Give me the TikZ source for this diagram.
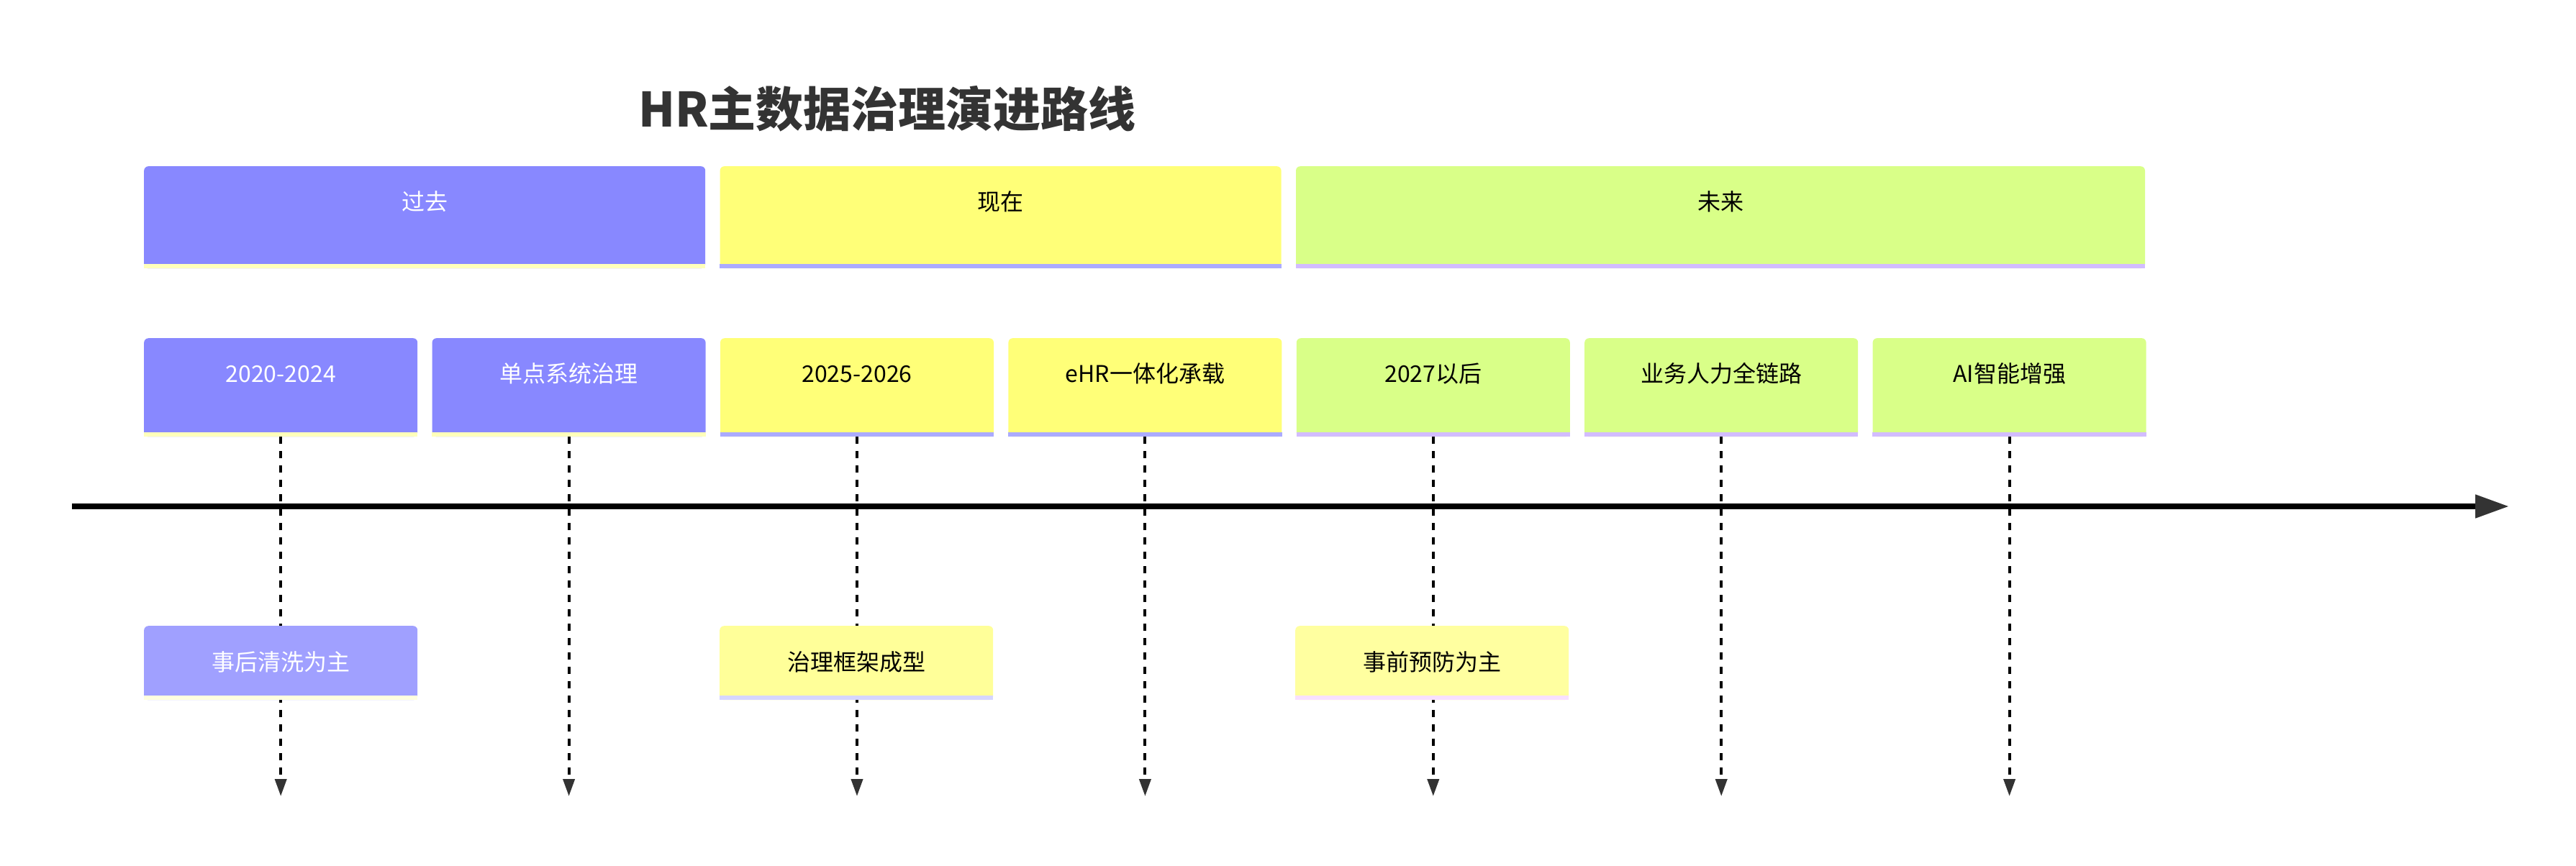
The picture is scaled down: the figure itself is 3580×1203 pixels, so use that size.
\documentclass[tikz,border=0pt]{standalone}
\usepackage{fontspec}
\setmainfont{Noto Sans CJK SC}
\usetikzlibrary{arrows.meta,positioning}

\definecolor{pastbg}{HTML}{8888FF}
\definecolor{pastband}{HTML}{FFFFBB}
\definecolor{nowbg}{HTML}{FFFF78}
\definecolor{nowband}{HTML}{ABABFF}
\definecolor{futbg}{HTML}{D9FF88}
\definecolor{futband}{HTML}{D2BCFF}
\definecolor{pastnote}{HTML}{A0A0FF}
\definecolor{pastnoteband}{HTML}{FFFFE0}
\definecolor{nownote}{HTML}{FFFF99}
\definecolor{nownoteband}{HTML}{D6D6FF}
\definecolor{futnote}{HTML}{FFFFA0}
\definecolor{futnoteband}{HTML}{F8E0FF}
\definecolor{titlegray}{HTML}{333333}
\definecolor{tipgray}{HTML}{333333}

% band under each card
\newcommand\bandline[2]{\fill[#2] ([yshift=6pt]#1.south west) rectangle (#1.south east);}

\begin{document}
\begin{tikzpicture}[
    x=1pt, y=-1pt,
    card/.style={
        rectangle, rounded corners=6pt, inner xsep=0pt, inner ysep=0pt,
        minimum width=380pt, anchor=north west,
        font=\fontsize{32}{38}\selectfont
    },
    secbox/.style={card, text height=61pt, text depth=81pt},
    evtbox/.style={card, text height=61pt, text depth=76pt},
    notebox/.style={card, text height=62pt, text depth=41pt},
    axisline/.style={line width=8pt, -{Triangle[length=47pt, width=31pt, color=tipgray]}},
    tick/.style={line width=4pt, dash pattern=on 10pt off 10pt,
        -{Triangle[length=24pt, width=16pt, color=tipgray]}}
]
\useasboundingbox (0,0) rectangle (3580,1203);

% Title
\node[font=\bfseries\fontsize{66}{72}\selectfont, text=titlegray] (title) at (1233,151) {HR主数据治理演进路线};

% Sections
\node[secbox, fill=pastbg, text=white, minimum width=780pt] (past) at (200,231) {过去};
\node[secbox, fill=nowbg, minimum width=780pt, right=20pt of past] (now) {现在};
\node[secbox, fill=futbg, minimum width=1180pt, right=20pt of now] (future) {未来};
\bandline{past}{pastband}
\bandline{now}{nowband}
\bandline{future}{futband}

% Events
\node[evtbox, fill=pastbg, text=white] (e2020) at (200,470) {2020-2024};
\node[evtbox, fill=pastbg, text=white, right=20pt of e2020] (eSingle) {单点系统治理};
\node[evtbox, fill=nowbg, right=20pt of eSingle] (e2025) {2025-2026};
\node[evtbox, fill=nowbg, right=20pt of e2025] (eEhr) {eHR一体化承载};
\node[evtbox, fill=futbg, right=20pt of eEhr] (e2027) {2027以后};
\node[evtbox, fill=futbg, right=20pt of e2027] (eChain) {业务人力全链路};
\node[evtbox, fill=futbg, right=20pt of eChain] (eAI) {AI智能增强};
\bandline{e2020}{pastband}
\bandline{eSingle}{pastband}
\bandline{e2025}{nowband}
\bandline{eEhr}{nowband}
\bandline{e2027}{futband}
\bandline{eChain}{futband}
\bandline{eAI}{futband}

% Axis
\coordinate (axisL) at (100,704);
\coordinate (axisR) at (3487,704);
\draw[axisline] (axisL) -- (axisR);

% Drop lines
\coordinate (d1) at (e2020.south |- 0,1107);
\coordinate (d2) at (eSingle.south |- 0,1107);
\coordinate (d3) at (e2025.south |- 0,1107);
\coordinate (d4) at (eEhr.south |- 0,1107);
\coordinate (d5) at (e2027.south |- 0,1107);
\coordinate (d6) at (eChain.south |- 0,1107);
\coordinate (d7) at (eAI.south |- 0,1107);
\draw[tick] (e2020.south) -- (d1);
\draw[tick] (eSingle.south) -- (d2);
\draw[tick] (e2025.south) -- (d3);
\draw[tick] (eEhr.south) -- (d4);
\draw[tick] (e2027.south) -- (d5);
\draw[tick] (eChain.south) -- (d6);
\draw[tick] (eAI.south) -- (d7);

% Notes
\node[notebox, fill=pastnote, text=white] (nClean) at (200,870) {事后清洗为主};
\node[notebox, fill=nownote] (nFrame) at (1000,870) {治理框架成型};
\node[notebox, fill=futnote] (nPrevent) at (1800,870) {事前预防为主};
\bandline{nClean}{pastnoteband}
\bandline{nFrame}{nownoteband}
\bandline{nPrevent}{futnoteband}
\end{tikzpicture}
\end{document}
